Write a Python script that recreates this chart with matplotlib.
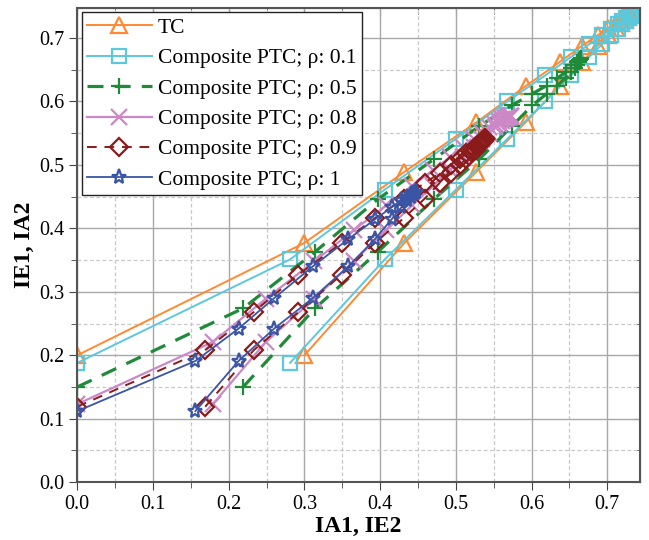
import matplotlib
matplotlib.use("Agg")
import matplotlib.pyplot as plt
from matplotlib.ticker import MultipleLocator

plt.rcParams['font.family'] = ['Liberation Serif', 'DejaVu Serif']

# values: upper branch is (x_i, y_i), lower branch (x_{i+1}, y_i)
tc_x = [0, 0.300, 0.432, 0.527, 0.592, 0.637, 0.667, 0.687, 0.701, 0.711, 0.718,
        0.723, 0.727, 0.730, 0.733, 0.735, 0.737, 0.738, 0.739, 0.740]
tc_y = [0.200, 0.377, 0.489, 0.567, 0.624, 0.662, 0.688, 0.704, 0.715, 0.723, 0.729,
        0.733, 0.736, 0.738, 0.740, 0.741, 0.742, 0.743, 0.744, 0.745]

p01_x = [0, 0.281, 0.406, 0.500, 0.568, 0.618, 0.652, 0.676, 0.693, 0.705, 0.714,
         0.720, 0.725, 0.728, 0.731, 0.733, 0.735, 0.736, 0.737]
p01_y = [0.188, 0.351, 0.461, 0.541, 0.600, 0.641, 0.670, 0.690, 0.704, 0.714, 0.722,
         0.727, 0.731, 0.734, 0.736, 0.738, 0.739, 0.740, 0.741]

p05_x = [0, 0.219, 0.314, 0.397, 0.471, 0.531, 0.574, 0.601, 0.620, 0.634, 0.645,
         0.652, 0.657, 0.660, 0.662, 0.664, 0.665]
p05_y = [0.150, 0.274, 0.363, 0.446, 0.509, 0.561, 0.594, 0.612, 0.625, 0.637, 0.646,
         0.653, 0.658, 0.662, 0.665, 0.667, 0.668]

p08_x = [0, 0.179, 0.249, 0.313, 0.365, 0.408, 0.442, 0.470, 0.492, 0.510, 0.524,
         0.535, 0.544, 0.551, 0.557, 0.561, 0.565, 0.568, 0.570, 0.572, 0.573]
p08_y = [0.123, 0.221, 0.289, 0.348, 0.397, 0.436, 0.467, 0.492, 0.512, 0.528, 0.541,
         0.551, 0.559, 0.565, 0.569, 0.572, 0.574, 0.575, 0.576, 0.577, 0.577]

p09_x = [0, 0.169, 0.233, 0.292, 0.349, 0.393, 0.431, 0.459, 0.479, 0.494, 0.505,
         0.514, 0.521, 0.526, 0.530, 0.533, 0.535, 0.537, 0.538, 0.539]
p09_y = [0.119, 0.208, 0.268, 0.327, 0.377, 0.416, 0.447, 0.472, 0.487, 0.500, 0.510,
         0.518, 0.524, 0.529, 0.533, 0.536, 0.538, 0.540, 0.541, 0.542]

p1_x = [0, 0.156, 0.213, 0.260, 0.311, 0.358, 0.393, 0.415, 0.428, 0.436, 0.441,
        0.444, 0.446, 0.447]
p1_y = [0.112, 0.191, 0.242, 0.290, 0.340, 0.383, 0.414, 0.433, 0.444, 0.450, 0.454,
        0.456, 0.457, 0.458]

series = [
    ("TC", tc_x, tc_y, '#FF8A33', '^', '-', 1.4, 11),
    ("Composite PTC; ρ: 0.1", p01_x, p01_y, '#5CC8DC', 's', '-', 1.4, 9.5),
    ("Composite PTC; ρ: 0.5", p05_x, p05_y, '#1F8A3A', '+', (0, (5, 3.5)), 2.3, 12),
    ("Composite PTC; ρ: 0.8", p08_x, p08_y, '#CC88C6', 'x', '-', 1.6, 11),
    ("Composite PTC; ρ: 0.9", p09_x, p09_y, '#8B1A1A', 'D', (0, (5, 4)), 1.4, 9.5),
    ("Composite PTC; ρ: 1", p1_x, p1_y, '#3A54A6', '*', '-', 1.3, 11),
]

fig = plt.figure(figsize=(6.49, 5.40), dpi=100)
ax = fig.add_axes([0.119, 0.107, 0.867, 0.878])

for label, xs, ys, col, mk, ls, lw, ms in series:
    kw = dict(color=col, linestyle=ls, linewidth=lw, marker=mk, markersize=ms,
              markerfacecolor='none', markeredgecolor=col, markeredgewidth=1.6)
    ax.plot(xs, ys, label=label, **kw)
    ax.plot(xs[1:], ys[:-1], **kw)

ax.set_xlim(0, 0.743)
ax.set_ylim(0, 0.747)
ax.xaxis.set_major_locator(MultipleLocator(0.1))
ax.yaxis.set_major_locator(MultipleLocator(0.1))
ax.xaxis.set_minor_locator(MultipleLocator(0.05))
ax.yaxis.set_minor_locator(MultipleLocator(0.05))
ax.xaxis.set_major_formatter(lambda v, p: f"{v:.1f}")
ax.yaxis.set_major_formatter(lambda v, p: f"{v:.1f}")

ax.grid(which='major', color='#a8a8a8', linewidth=1.0)
ax.grid(which='minor', color='#c8c8c8', linestyle=(0, (3, 2)), linewidth=0.9)
ax.set_axisbelow(True)

ax.tick_params(which='both', direction='out', labelsize=14.5, color='#444444')
ax.tick_params(which='major', length=6)
ax.tick_params(which='minor', length=4)
for sp in ax.spines.values():
    sp.set_color('#555555')
    sp.set_linewidth(1.5)

# inward ticks on top and right
top = ax.secondary_xaxis('top')
top.xaxis.set_major_locator(MultipleLocator(0.1))
top.xaxis.set_minor_locator(MultipleLocator(0.05))
top.tick_params(which='both', direction='in', labeltop=False, color='#444444')
top.tick_params(which='major', length=6)
top.tick_params(which='minor', length=4)
right = ax.secondary_yaxis('right')
right.yaxis.set_major_locator(MultipleLocator(0.1))
right.yaxis.set_minor_locator(MultipleLocator(0.05))
right.tick_params(which='both', direction='in', labelright=False, color='#444444')
right.tick_params(which='major', length=6)
right.tick_params(which='minor', length=4)

ax.set_xlabel("IA1, IE2", fontsize=17, fontweight='bold', labelpad=1)
ax.set_ylabel("IE1, IA2", fontsize=17, fontweight='bold', labelpad=3)

leg = ax.legend(loc='upper left', fontsize=15.5, frameon=True, fancybox=False,
                framealpha=1, edgecolor='#222222', handlelength=3.0,
                handletextpad=0.3, labelspacing=0.48, borderaxespad=0.2,
                borderpad=0.25)
leg.get_frame().set_linewidth(1.0)

fig.savefig("out.png", dpi=100)
